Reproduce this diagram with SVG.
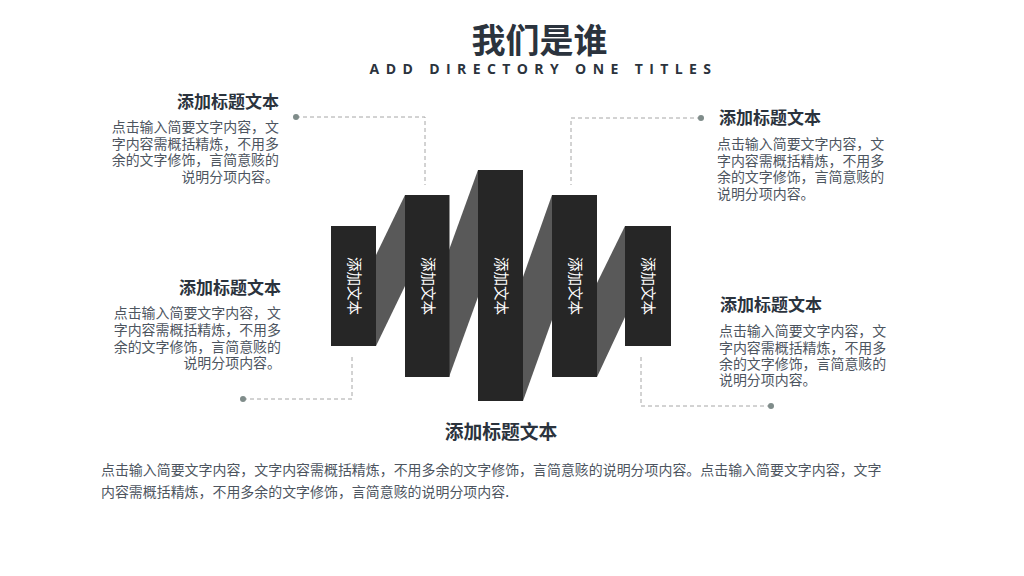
<svg xmlns="http://www.w3.org/2000/svg" width="1024" height="576" viewBox="0 0 1024 576">
<defs><style>
text{font-family:"Noto Sans CJK SC","Noto Sans",sans-serif}
.h{font-size:17px;font-weight:700;fill:#2b333d}
.b{font-size:13.950px;fill:#4d555f}
.r{text-anchor:end}
.bar{fill:#262626}
.sh{fill:#595959}
.v{font-size:14.500px;fill:#fff;font-weight:400;text-anchor:middle}
.d{fill:none;stroke:#a6a6a6;stroke-width:1;stroke-dasharray:4 3}
.dot{fill:#7f8c8a}
</style></defs>
<rect width="1024" height="576" fill="#fff"/>
<g id="title">
<text x="539.500" y="53" font-size="34" font-weight="700" fill="#2b333d" text-anchor="middle">我们是谁</text>
<text x="543.500" y="74" font-size="14" font-weight="700" fill="#2b333d" text-anchor="middle" letter-spacing="6.400" style="font-family:'Open Sans',sans-serif">ADD DIRECTORY ONE TITLES</text>
</g>
<g id="connectors">
<path class="d" d="M296 117H425V185"/>
<path class="d" d="M701 118H571V185"/>
<path class="d" d="M243 399H352V355"/>
<path class="d" d="M771 406H641V354"/>
<circle class="dot" cx="296" cy="117" r="3"/>
<circle class="dot" cx="701" cy="118" r="3"/>
<circle class="dot" cx="243" cy="399" r="3"/>
<circle class="dot" cx="771" cy="406" r="3"/>
</g>
<g id="shadows">
<polygon class="sh" points="376,255 405,195 405,286 376,346"/>
<polygon class="sh" points="449,250 478,170 478,297 449,377"/>
<polygon class="sh" points="523,277 552,195 552,320 523,401"/>
<polygon class="sh" points="597,283 625,226 625,317 597,377"/>
</g>
<g id="node-bar1"><rect class="bar" x="331" y="226" width="45" height="120"/><text class="v" transform="translate(353.500,286) rotate(90)" y="5">添加文本</text></g>
<g id="node-bar2"><rect class="bar" x="405" y="195" width="44.500" height="182"/><text class="v" transform="translate(427.500,286) rotate(90)" y="5">添加文本</text></g>
<g id="node-bar3"><rect class="bar" x="478" y="170" width="45" height="231"/><text class="v" transform="translate(500.500,286) rotate(90)" y="5">添加文本</text></g>
<g id="node-bar4"><rect class="bar" x="552" y="195" width="45" height="182"/><text class="v" transform="translate(574.500,286) rotate(90)" y="5">添加文本</text></g>
<g id="node-bar5"><rect class="bar" x="625" y="226" width="46" height="120"/><text class="v" transform="translate(648,286) rotate(90)" y="5">添加文本</text></g>
<g id="node-tl">
<text class="h r" x="279" y="108">添加标题文本</text>
<text class="b r" x="279" y="132">点击输入简要文字内容，文</text>
<text class="b r" x="279" y="149">字内容需概括精炼，不用多</text>
<text class="b r" x="279" y="165">余的文字修饰，言简意赅的</text>
<text class="b r" x="279" y="182">说明分项内容。</text>
</g>
<g id="node-bl">
<text class="h r" x="281" y="294">添加标题文本</text>
<text class="b r" x="281" y="318">点击输入简要文字内容，文</text>
<text class="b r" x="281" y="335">字内容需概括精炼，不用多</text>
<text class="b r" x="281" y="352">余的文字修饰，言简意赅的</text>
<text class="b r" x="281" y="368">说明分项内容。</text>
</g>
<g id="node-tr">
<text class="h" x="719" y="124">添加标题文本</text>
<text class="b" x="717" y="149">点击输入简要文字内容，文</text>
<text class="b" x="717" y="166">字内容需概括精炼，不用多</text>
<text class="b" x="717" y="182">余的文字修饰，言简意赅的</text>
<text class="b" x="717" y="199">说明分项内容。</text>
</g>
<g id="node-br">
<text class="h" x="720" y="311">添加标题文本</text>
<text class="b" x="719" y="336">点击输入简要文字内容，文</text>
<text class="b" x="719" y="353">字内容需概括精炼，不用多</text>
<text class="b" x="719" y="369">余的文字修饰，言简意赅的</text>
<text class="b" x="719" y="385">说明分项内容。</text>
</g>
<g id="node-bottom">
<text class="h" x="501" y="439" text-anchor="middle" style="font-size:18.800px">添加标题文本</text>
<text class="b" x="101" y="475">点击输入简要文字内容，文字内容需概括精炼，不用多余的文字修饰，言简意赅的说明分项内容。点击输入简要文字内容，文字</text>
<text class="b" x="101" y="497">内容需概括精炼，不用多余的文字修饰，言简意赅的说明分项内容.</text>
</g>
</svg>
